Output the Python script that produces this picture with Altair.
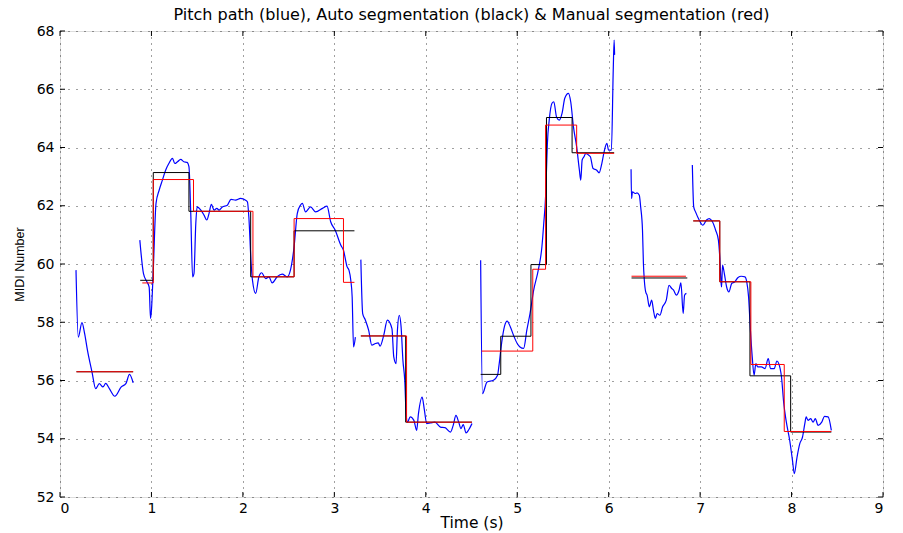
import altair as alt
import pandas as pd

# ---- axis ticks -------------------------------------------------------
X_TICKS = list(range(0, 10))
Y_TICKS = list(range(52, 69, 2))

# ---- pitch track (seconds, MIDI number), one list per voiced stretch ---
pitch_t_1 = [0.175, 0.20, 0.24, 0.27, 0.30, 0.35, 0.39, 0.43, 0.47, 0.50, 0.54, 0.60, 0.67, 0.72, 0.76, 0.80]
pitch_m_1 = [59.79, 57.49, 57.99, 57.60, 57.04, 56.29, 55.72, 55.89, 55.78, 55.90, 55.72, 55.46, 55.78, 55.89, 56.21, 55.92]

pitch_t_2 = [0.873, 0.913, 0.95, 0.975, 0.99, 1.00, 1.02, 1.05, 1.085, 1.12, 1.155, 1.19, 1.23, 1.255, 1.285,
             1.32, 1.355, 1.39, 1.41, 1.43, 1.45, 1.465, 1.485, 1.50, 1.54, 1.575, 1.605, 1.63, 1.655, 1.685,
             1.715, 1.74, 1.775, 1.83, 1.87, 1.92, 1.975, 2.03, 2.05, 2.065, 2.09, 2.105, 2.14, 2.175, 2.205,
             2.25, 2.285, 2.32, 2.375, 2.43, 2.485, 2.52, 2.56, 2.595, 2.63, 2.65, 2.685, 2.74, 2.795, 2.87,
             2.92, 2.96, 3.01, 3.07, 3.10, 3.14, 3.16, 3.18, 3.195, 3.21, 3.23]
pitch_m_2 = [60.82, 59.67, 59.39, 59.21, 58.13, 58.41, 59.79, 62.08, 62.54, 62.88, 63.22, 63.45, 63.63, 63.45, 63.51,
             63.59, 63.51, 63.49, 63.34, 61.74, 59.56, 59.67, 61.39, 61.96, 61.85, 61.68, 61.51, 61.74, 62.05, 61.85,
             61.91, 61.85, 61.96, 62.02, 62.22, 62.19, 62.25, 62.19, 62.13, 61.62, 60.02, 59.44, 58.99, 59.56, 59.70,
             59.50, 59.56, 59.35, 59.56, 59.65, 59.56, 59.79, 60.59, 61.74, 62.02, 62.08, 61.79, 61.96, 61.79, 61.91,
             61.99, 61.45, 61.16, 60.65, 60.47, 59.90, 59.79, 59.44, 58.87, 57.15, 57.49]

pitch_t_3 = [3.29, 3.31, 3.34, 3.375, 3.41, 3.45, 3.48, 3.50, 3.54, 3.58, 3.63, 3.65, 3.675, 3.69, 3.71, 3.73,
             3.75, 3.77, 3.785, 3.80, 3.83, 3.87, 3.90, 3.92, 3.96, 3.985, 4.01, 4.05, 4.10, 4.16, 4.21, 4.27,
             4.30, 4.33, 4.36, 4.385, 4.41, 4.44, 4.47, 4.505]
pitch_m_3 = [60.15, 58.30, 58.07, 57.73, 57.21, 57.27, 57.29, 57.18, 57.55, 58.07, 57.78, 56.81, 56.58, 57.73, 58.24, 57.84,
             56.69, 56.01, 54.86, 54.57, 54.75, 54.63, 54.29, 54.86, 55.43, 54.98, 54.52, 54.54, 54.57, 54.40, 54.38, 54.23,
             54.46, 54.80, 54.57, 54.35, 54.49, 54.20, 54.31, 54.52]

pitch_t_4 = [4.60, 4.62, 4.67, 4.74, 4.785, 4.80, 4.83, 4.86, 4.89, 4.925, 4.96, 5.00, 5.03, 5.07, 5.105, 5.14,
             5.18, 5.23, 5.27, 5.29, 5.31, 5.32, 5.33, 5.35, 5.38, 5.40, 5.43, 5.46, 5.49, 5.52, 5.56, 5.585,
             5.615, 5.65, 5.68, 5.695, 5.71, 5.73, 5.75, 5.78, 5.80, 5.83, 5.87, 5.895, 5.925, 5.95, 5.98, 6.00,
             6.03, 6.05, 6.06, 6.065]
pitch_m_4 = [60.13, 55.55, 55.95, 56.01, 56.18, 56.50, 57.30, 57.85, 58.04, 57.84, 57.55, 57.27, 57.15, 57.10, 57.73, 58.30,
             59.10, 59.79, 60.59, 61.39, 62.31, 63.22, 64.14, 64.94, 65.52, 65.57, 65.05, 64.94, 65.17, 65.69, 65.86, 65.57,
             64.71, 64.02, 63.22, 62.88, 63.57, 63.68, 63.80, 63.74, 63.68, 63.28, 63.22, 63.13, 63.45, 63.85, 64.14, 63.91,
             63.91, 66.66, 67.69, 67.18]

pitch_t_5 = [6.245, 6.25, 6.26, 6.29, 6.31, 6.335, 6.35, 6.37, 6.38, 6.39, 6.405, 6.42, 6.445, 6.47, 6.49,
             6.51, 6.53, 6.56, 6.59, 6.63, 6.66, 6.69, 6.71, 6.74, 6.77, 6.79, 6.815, 6.83, 6.85]
pitch_m_5 = [63.25, 62.25, 62.48, 62.42, 62.44, 62.36, 61.96, 61.16, 60.02, 59.44, 59.04, 58.93, 58.53, 58.76, 58.41,
             58.13, 58.30, 58.24, 58.53, 58.76, 59.27, 59.16, 59.10, 58.93, 59.10, 59.35, 58.30, 58.93, 58.99]

pitch_t_6 = [6.915, 6.93, 6.95, 6.99, 7.03, 7.07, 7.10, 7.135, 7.17, 7.20, 7.215, 7.23, 7.235, 7.245, 7.265,
             7.29, 7.315, 7.345, 7.38, 7.415, 7.45, 7.49, 7.51, 7.53, 7.55, 7.57, 7.59, 7.61, 7.63, 7.67,
             7.71, 7.745, 7.77, 7.81, 7.84, 7.86, 7.89, 7.915, 7.94, 7.98, 8.01, 8.03, 8.06, 8.09, 8.12,
             8.145, 8.16, 8.18, 8.21, 8.235, 8.26, 8.29, 8.33, 8.36, 8.40, 8.435]
pitch_m_6 = [63.40, 61.96, 61.79, 61.51, 61.33, 61.51, 61.56, 61.45, 61.16, 60.82, 60.24, 59.33, 59.21, 59.96, 59.67,
             59.21, 59.04, 59.33, 59.39, 59.54, 59.58, 59.56, 59.39, 58.87, 57.73, 56.81, 56.18, 56.58, 56.47, 56.47,
             56.41, 56.75, 56.41, 56.41, 56.67, 56.58, 56.12, 55.21, 54.63, 53.94, 53.26, 52.80, 53.37, 53.83, 54.06,
             54.52, 54.75, 54.63, 54.69, 54.57, 54.69, 54.46, 54.57, 54.77, 54.75, 54.29]

PITCH_SEGMENTS = [
    (pitch_t_1, pitch_m_1), (pitch_t_2, pitch_m_2), (pitch_t_3, pitch_m_3),
    (pitch_t_4, pitch_m_4), (pitch_t_5, pitch_m_5), (pitch_t_6, pitch_m_6),
]

# ---- note segmentations: (onset s, offset s, MIDI) per phrase ----------
auto_notes = [
    [(0.18, 0.80, 56.30)],
    [(0.877, 1.02, 59.44), (1.02, 1.41, 63.14), (1.41, 2.085, 61.81), (2.085, 2.56, 59.56), (2.56, 3.22, 61.14)],
    [(3.29, 3.78, 57.53), (3.78, 4.505, 54.57)],
    [(4.60, 4.82, 56.21), (4.82, 5.15, 57.52), (5.15, 5.32, 59.98), (5.32, 5.60, 65.03), (5.60, 6.06, 63.82)],
    [(6.25, 6.86, 59.52)],
    [(6.925, 7.215, 61.48), (7.215, 7.545, 59.39), (7.545, 7.99, 56.16), (7.99, 8.435, 54.23)],
]
manual_notes = [
    [(0.18, 0.80, 56.30)],
    [(0.90, 1.02, 59.35), (1.02, 1.46, 62.90), (1.46, 2.11, 61.81), (2.11, 2.56, 59.56),
     (2.56, 3.10, 61.56), (3.10, 3.22, 59.37)],
    [(3.29, 3.79, 57.53), (3.79, 4.505, 54.57)],
    [(4.61, 5.17, 57.01), (5.17, 5.31, 59.82), (5.31, 5.65, 64.77), (5.65, 6.06, 63.80)],
    [(6.25, 6.845, 59.58)],
    [(6.925, 7.215, 61.48), (7.215, 7.555, 59.39), (7.555, 7.92, 56.55), (7.92, 8.435, 54.25)],
]

TITLE = "Pitch path (blue), Auto segmentation (black) & Manual segmentation (red)"
W, H = 823, 466
FONT = "DejaVu Sans"


def pitch_frame():
    rows = []
    for i, (ts, ms) in enumerate(PITCH_SEGMENTS):
        for t, m in zip(ts, ms):
            rows.append({"t": t, "midi": m, "seg": i})
    return pd.DataFrame(rows)


def step_frame(phrases):
    rows, k = [], 0
    for i, notes in enumerate(phrases):
        for on, off, m in notes:
            rows.append({"t": on, "midi": m, "seg": i, "k": k})
            rows.append({"t": off, "midi": m, "seg": i, "k": k + 1})
            k += 2
    return pd.DataFrame(rows)


x_scale = alt.Scale(domain=[0, 9], nice=False, zero=False)
y_scale = alt.Scale(domain=[52, 68], nice=False, zero=False)

x_axis = alt.Axis(values=X_TICKS, format="d", title="Time (s)", grid=True, gridDash=[1, 5],
                  gridColor="#000000", gridOpacity=0.75, tickSize=0, domain=False,
                  labelFont=FONT, labelFontSize=14, labelColor="black", labelPadding=4,
                  titleFont=FONT, titleFontSize=15.5, titleFontWeight="normal", titleColor="black",
                  titlePadding=0)
y_axis = alt.Axis(values=Y_TICKS, format="d", title="MIDI Number", grid=True, gridDash=[1, 7],
                  gridColor="#000000", gridOpacity=0.75, tickSize=0, domain=False,
                  labelFont=FONT, labelFontSize=14, labelColor="black", labelPadding=6,
                  titleFont="Liberation Sans", titleFontSize=12.5, titleFontWeight="normal",
                  titleColor="black", titlePadding=10)

# every layer shares the same fields, scales and axis settings
X_ENC = alt.X("t:Q", scale=x_scale, axis=x_axis)
Y_ENC = alt.Y("midi:Q", scale=y_scale, axis=y_axis)

pitch = alt.Chart(pitch_frame()).mark_line(color="#0000ff", strokeWidth=1.2, interpolate="monotone").encode(
    x=X_ENC, y=Y_ENC, detail="seg:N",
)

auto_seg = alt.Chart(step_frame(auto_notes)).mark_line(color="#000000", strokeWidth=1).encode(
    x=X_ENC, y=Y_ENC, detail="seg:N", order="k:Q",
)

manual_seg = alt.Chart(step_frame(manual_notes)).mark_line(color="#ff0000", strokeWidth=1).encode(
    x=X_ENC, y=Y_ENC, detail="seg:N", order="k:Q",
)

# inward tick marks on all four sides of the box
xt = pd.DataFrame({"t": X_TICKS})
yt = pd.DataFrame({"midi": Y_TICKS})
tick_len = 5
ticks_top = alt.Chart(xt).mark_rule(color="black", strokeWidth=1).encode(
    x=X_ENC, y=alt.value(0), y2=alt.value(tick_len))
ticks_bottom = alt.Chart(xt).mark_rule(color="black", strokeWidth=1).encode(
    x=X_ENC, y=alt.value(H), y2=alt.value(H - tick_len))
ticks_left = alt.Chart(yt).mark_rule(color="black", strokeWidth=1).encode(
    y=Y_ENC, x=alt.value(0), x2=alt.value(tick_len))
ticks_right = alt.Chart(yt).mark_rule(color="black", strokeWidth=1).encode(
    y=Y_ENC, x=alt.value(W), x2=alt.value(W - tick_len))

chart = alt.layer(
    pitch, auto_seg, manual_seg, ticks_top, ticks_bottom, ticks_left, ticks_right
).properties(
    width=W,
    height=H,
    title=alt.TitleParams(TITLE, font=FONT, fontSize=16, fontWeight="normal", color="black", offset=1),
    autosize=alt.AutoSizeParams(type="none"),
    padding={"left": 60, "top": 31, "right": 20, "bottom": 36},
).configure_view(
    stroke="black", strokeWidth=1.3
).configure(background="white")

chart.save("out.html", embed_options={"renderer": "svg", "actions": False})
